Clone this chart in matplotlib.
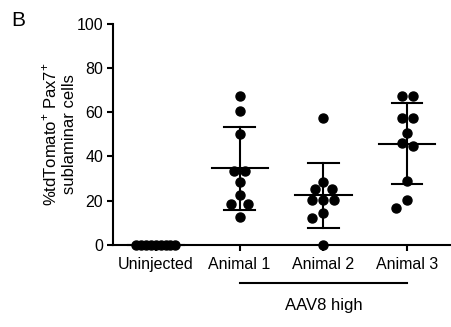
import matplotlib
matplotlib.use('Agg')
import matplotlib.pyplot as plt
import matplotlib.transforms as mtransforms
import numpy as np

plt.rcParams['font.family'] = ['Liberation Sans', 'DejaVu Sans']
plt.rcParams['mathtext.fontset'] = 'custom'
plt.rcParams['mathtext.rm'] = 'Liberation Sans'

groups = ['Uninjected', 'Animal 1', 'Animal 2', 'Animal 3']
uninjected = [0, 0, 0, 0, 0, 0, 0, 0, 0]
animal1 = [67.3, 60.5, 50.0, 33.5, 33.5, 28.6, 22.6, 18.5, 18.5, 12.8]
animal2 = [57.5, 28.6, 25.3, 25.3, 20.3, 20.3, 20.3, 14.6, 12.3, 0.0]
animal3 = [67.3, 67.3, 57.5, 57.5, 50.4, 45.9, 44.7, 29.0, 20.3, 16.6]
series = [uninjected, animal1, animal2, animal3]
bracket_label = 'AAV8 high'
yticks = [0, 20, 40, 60, 80, 100]

fig = plt.figure(figsize=(4.52, 3.27), dpi=100, facecolor='white')
ax = fig.add_axes([0.25, 0.2508, 0.7456, 0.6772])
ax.set_xlim(-0.51, 3.51)
ax.set_ylim(0, 100)


def swarm(vals, xc, dot=11.0, max_half=19.5):
    """Simple column-scatter layout in pixel space, ties placed symmetrically."""
    vals = np.asarray(vals, dtype=float)
    order = np.argsort(-vals)
    ypx = ax.transData.transform(np.column_stack([np.full(len(vals), xc), vals]))[:, 1]
    pxu = ax.transData.transform([(1, 0)])[0, 0] - ax.transData.transform([(0, 0)])[0, 0]
    # group near-equal values
    rows, cur = [], [order[0]]
    for i in order[1:]:
        if abs(vals[i] - vals[cur[-1]]) < 1.0:
            cur.append(i)
        else:
            rows.append(cur)
            cur = [i]
    rows.append(cur)
    offs = np.zeros(len(vals))
    placed = []
    for row in rows:
        n = len(row)
        y = ypx[row[0]]
        if n == 1:
            cands = [0.0]
            for k in range(1, 20):
                cands += [-k * dot / 2, k * dot / 2]
            for c in cands:
                if all(np.hypot(c - px, y - py) >= dot for px, py in placed):
                    break
            o = [c]
        else:
            for k in range(0, 20):
                w = dot * (1 + 0.5 * k)
                o = (np.arange(n) - (n - 1) / 2) * w
                if all(np.hypot(c - px, y - py) >= dot for c in o for px, py in placed):
                    break
            if np.max(np.abs(o)) > max_half:
                o = o / np.max(np.abs(o)) * max_half
        for i, c in zip(row, o):
            offs[i] = c
            placed.append((c, y))
    return xc + offs / pxu


for i, vals in enumerate(series):
    xs = swarm(vals, i)
    ax.plot(xs, vals, 'o', color='black', markersize=6.5, clip_on=False, zorder=4)
    m = np.mean(vals)
    sd = np.std(vals, ddof=1)
    ax.plot([i - 0.335, i + 0.335], [m, m], color='black', lw=1.5, clip_on=False, zorder=3)
    ax.plot([i, i], [m - sd, m + sd], color='black', lw=1.5, clip_on=False, zorder=3)
    for yv in (m - sd, m + sd):
        ax.plot([i - 0.18, i + 0.18], [yv, yv], color='black', lw=1.5, clip_on=False, zorder=3)

for s in ['top', 'right']:
    ax.spines[s].set_visible(False)
for s in ['left', 'bottom']:
    ax.spines[s].set_linewidth(1.5)

ax.set_yticks(yticks)
ax.set_xticks(range(len(groups)))
ax.set_xticklabels(groups)
ax.tick_params(axis='both', labelsize=11.5, width=1.5, length=4, color='black', pad=3)
ax.tick_params(axis='x', pad=5)

ax.set_ylabel('%tdTomato$^{+}$ Pax7$^{+}$\nsublaminar cells', fontsize=12, labelpad=0,
              multialignment='center', linespacing=1.2)

trans = mtransforms.blended_transform_factory(ax.transData, ax.transAxes)
ax.plot([1.0, 3.0], [-0.172, -0.172], color='black', lw=1.5, transform=trans, clip_on=False)
ax.text(2.0, -0.272, bracket_label, transform=trans, ha='center', va='center', fontsize=12)

fig.text(18 / 452, 1 - 21 / 327, 'B', fontsize=15, ha='center', va='center')

fig.savefig('out.png', dpi=100, facecolor='white')
